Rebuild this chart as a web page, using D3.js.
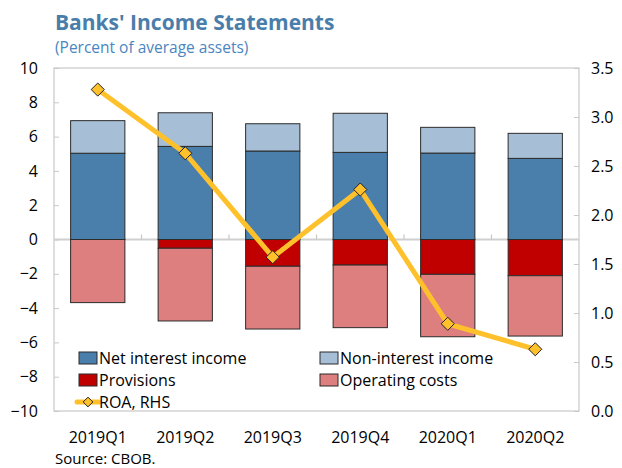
<!DOCTYPE html>
<html>
<head>
<meta charset="utf-8">
<script src="https://cdn.jsdelivr.net/npm/d3@7"></script>
<style>
  html, body { margin: 0; padding: 0; background: #fff; }
  svg { display: block; font-family: "Open Sans", "Noto Sans", sans-serif; }
</style>
</head>
<body>
<svg id="chart" width="622" height="468"></svg>
<script>
// Quarterly bank income components, percent of average assets
const quarters = ["2019Q1", "2019Q2", "2019Q3", "2019Q4", "2020Q1", "2020Q2"];
const netInterestIncome = [5.03, 5.43, 5.16, 5.08, 5.04, 4.73];
const nonInterestIncome = [1.90, 1.96, 1.59, 2.28, 1.50, 1.46];
const provisions = [0.00, -0.51, -1.56, -1.49, -2.03, -2.11];
const operatingCosts = [-3.68, -4.24, -3.66, -3.65, -3.64, -3.52];
const roa = [3.28, 2.63, 1.57, 2.26, 0.89, 0.63];

const leftTicks = [-10, -8, -6, -4, -2, 0, 2, 4, 6, 8, 10];
const rightTicks = [0, 0.5, 1, 1.5, 2, 2.5, 3, 3.5];

const colors = {
  nii: "#4a7fac",
  nonii: "#a6bfd6",
  prov: "#c00000",
  cost: "#de7f7f",
  roa: "#ffc12b"
};

const svg = d3.select("#chart");
const plot = { left: 54, right: 579, top: 68, bottom: 411 };

const x = d3.scaleBand().domain(quarters).range([plot.left, plot.right]).paddingInner(0.38).paddingOuter(0.19);
const xBand = d3.scaleBand().domain(quarters).range([plot.left, plot.right]);
const yL = d3.scaleLinear().domain([-10, 10]).range([plot.bottom, plot.top]);
const yR = d3.scaleLinear().domain([0, 3.5]).range([plot.bottom, plot.top]);

// Title and subtitle
svg.append("text").attr("x", 55).attr("y", 30)
  .attr("font-size", 21).attr("font-weight", "bold").attr("fill", "#4a7eaa")
  .text("Banks' Income Statements");
svg.append("text").attr("x", 55).attr("y", 53)
  .attr("font-size", 15.5).attr("fill", "#4a86c0")
  .text("(Percent of average assets)");

// Plot frame
svg.append("rect")
  .attr("x", plot.left).attr("y", plot.top)
  .attr("width", plot.right - plot.left).attr("height", plot.bottom - plot.top)
  .attr("fill", "none").attr("stroke", "#c8c8c8").attr("stroke-width", 1.2);

// Left axis (ticks point inward)
const leftAxis = d3.axisLeft(yL).tickValues(leftTicks).tickSize(-5).tickPadding(16).tickFormat(d3.format("d"));
const gL = svg.append("g").attr("transform", `translate(${plot.left},0)`).call(leftAxis);
gL.select(".domain").remove();
gL.selectAll("line").attr("stroke", "#c8c8c8");
gL.selectAll("text").attr("font-size", 16).attr("fill", "#000")
  .attr("font-family", "'Open Sans', 'Noto Sans', sans-serif");

// Right axis
const rightAxis = d3.axisRight(yR).tickValues(rightTicks).tickSize(-5).tickPadding(12).tickFormat(d3.format(".1f"));
const gR = svg.append("g").attr("transform", `translate(${plot.right},0)`).call(rightAxis);
gR.select(".domain").remove();
gR.selectAll("line").attr("stroke", "#c8c8c8");
gR.selectAll("text").attr("font-size", 16).attr("fill", "#000")
  .attr("font-family", "'Open Sans', 'Noto Sans', sans-serif");

// Zero line with category dividers
svg.append("line")
  .attr("x1", plot.left).attr("x2", plot.right)
  .attr("y1", yL(0)).attr("y2", yL(0))
  .attr("stroke", "#d0d0d0").attr("stroke-width", 2);
svg.append("g").selectAll("line").data(quarters.slice(1)).join("line")
  .attr("x1", d => xBand(d)).attr("x2", d => xBand(d))
  .attr("y1", yL(0)).attr("y2", yL(0) - 5)
  .attr("stroke", "#c8c8c8").attr("stroke-width", 1.2);

// Category labels
svg.append("g").selectAll("text").data(quarters).join("text")
  .attr("x", d => xBand(d) + xBand.bandwidth() / 2)
  .attr("y", 443)
  .attr("text-anchor", "middle").attr("font-size", 16).attr("fill", "#000")
  .text(d => d);

// Stacked bars
const rows = quarters.map((q, i) => ({
  q,
  segs: [
    { key: "nii", y0: 0, y1: netInterestIncome[i] },
    { key: "nonii", y0: netInterestIncome[i], y1: netInterestIncome[i] + nonInterestIncome[i] },
    { key: "prov", y0: 0, y1: provisions[i] },
    { key: "cost", y0: provisions[i], y1: provisions[i] + operatingCosts[i] }
  ]
}));

const barG = svg.append("g");
rows.forEach(r => {
  r.segs.filter(s => s.y1 !== s.y0).forEach(s => {
    barG.append("rect")
      .attr("x", x(r.q))
      .attr("width", x.bandwidth())
      .attr("y", yL(Math.max(s.y0, s.y1)))
      .attr("height", Math.abs(yL(s.y0) - yL(s.y1)))
      .attr("fill", colors[s.key])
      .attr("stroke", "#2b2b2b").attr("stroke-width", 1);
  });
});

// ROA line on right axis
const cx = d => xBand(d) + xBand.bandwidth() / 2;
svg.append("path")
  .datum(quarters.map((q, i) => [cx(q), yR(roa[i])]))
  .attr("d", d3.line())
  .attr("fill", "none").attr("stroke", colors.roa)
  .attr("stroke-width", 5).attr("stroke-linejoin", "round");

const diamond = d3.symbol().type(d3.symbolDiamond2).size(110);
svg.append("g").selectAll("path").data(quarters).join("path")
  .attr("transform", (d, i) => `translate(${cx(d)},${yR(roa[i])})`)
  .attr("d", diamond)
  .attr("fill", colors.roa).attr("stroke", "#222").attr("stroke-width", 1);

// Legend
const legendItems = [
  { label: "Net interest income", key: "nii", col: 0, row: 0 },
  { label: "Non-interest income", key: "nonii", col: 1, row: 0 },
  { label: "Provisions", key: "prov", col: 0, row: 1 },
  { label: "Operating costs", key: "cost", col: 1, row: 1 }
];
const legX = [79, 320];
const legY = [358, 380, 402];
const lg = svg.append("g");
legendItems.forEach(it => {
  lg.append("rect")
    .attr("x", legX[it.col]).attr("y", legY[it.row] - 6)
    .attr("width", 18).attr("height", 12)
    .attr("fill", colors[it.key]).attr("stroke", "#2b2b2b").attr("stroke-width", 1);
  lg.append("text")
    .attr("x", legX[it.col] + 20).attr("y", legY[it.row] + 6)
    .attr("font-size", 16).attr("fill", "#000").text(it.label);
});
lg.append("line")
  .attr("x1", legX[0] - 2).attr("x2", legX[0] + 20)
  .attr("y1", legY[2]).attr("y2", legY[2])
  .attr("stroke", colors.roa).attr("stroke-width", 5).attr("stroke-linecap", "round");
lg.append("path")
  .attr("transform", `translate(${legX[0] + 9},${legY[2]})`)
  .attr("d", d3.symbol().type(d3.symbolDiamond2).size(60))
  .attr("fill", colors.roa).attr("stroke", "#222").attr("stroke-width", 1);
lg.append("text")
  .attr("x", legX[0] + 20).attr("y", legY[2] + 6)
  .attr("font-size", 16).attr("fill", "#000").text("ROA, RHS");

// Source note
svg.append("text").attr("x", 55).attr("y", 464)
  .attr("font-size", 15).attr("fill", "#000").text("Source: CBOB.");
</script>
</body>
</html>
